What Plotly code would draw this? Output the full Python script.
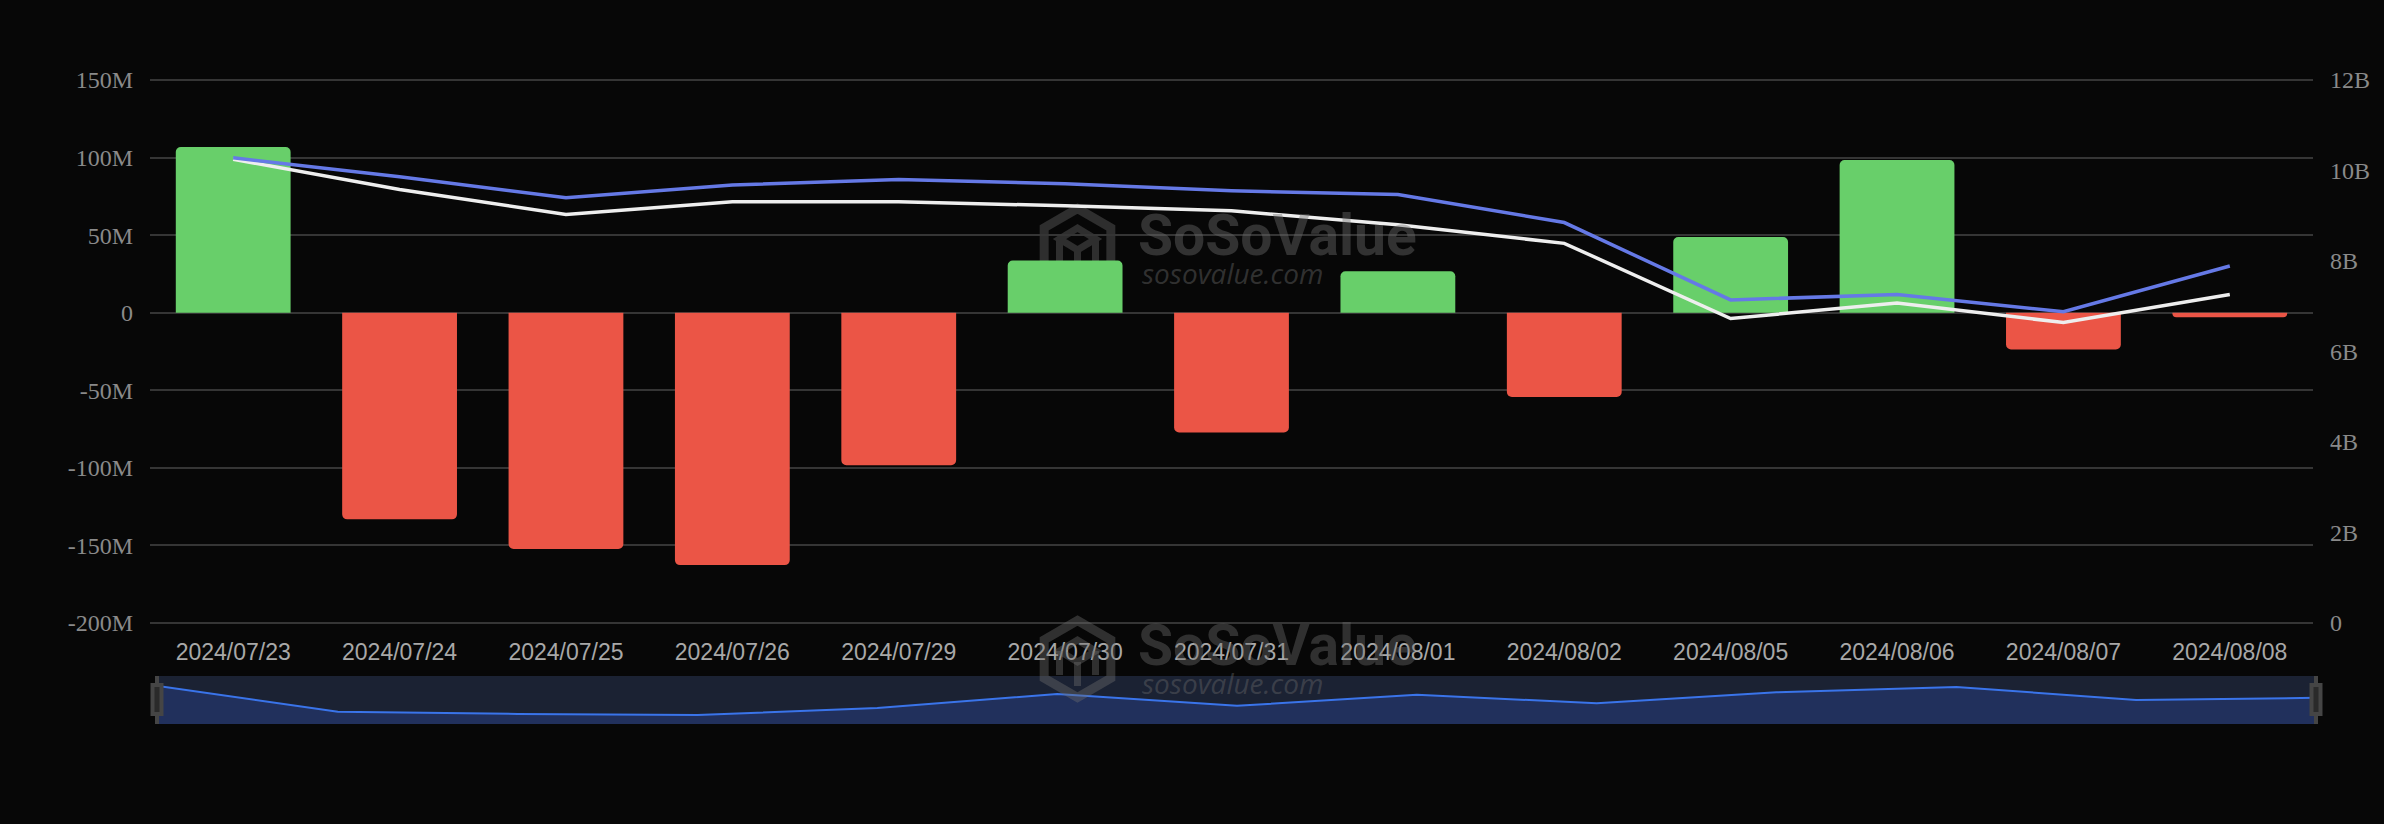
import plotly.graph_objects as go

# ---------------- data ----------------
dates = ["2024/07/23", "2024/07/24", "2024/07/25", "2024/07/26", "2024/07/29",
         "2024/07/30", "2024/07/31", "2024/08/01", "2024/08/02", "2024/08/05",
         "2024/08/06", "2024/08/07", "2024/08/08"]
net_inflow = [106.8e6, -133.2e6, -152.3e6, -162.7e6, -98.3e6, 33.7e6, -77.2e6,
              26.7e6, -54.3e6, 48.8e6, 98.4e6, -23.7e6, -2.9e6]
blue_line = [10.28e9, 9.86e9, 9.40e9, 9.68e9, 9.80e9, 9.71e9, 9.55e9, 9.47e9,
             8.85e9, 7.14e9, 7.26e9, 6.88e9, 7.89e9]
white_line = [10.25e9, 9.58e9, 9.03e9, 9.31e9, 9.31e9, 9.22e9, 9.11e9, 8.80e9,
              8.39e9, 6.73e9, 7.07e9, 6.64e9, 7.26e9]
left_tickvals = [-200e6, -150e6, -100e6, -50e6, 0, 50e6, 100e6, 150e6]
left_ticktext = ["-200M", "-150M", "-100M", "-50M", "0", "50M", "100M", "150M"]
right_tickvals = [0, 2e9, 4e9, 6e9, 8e9, 10e9, 12e9]
right_ticktext = ["0", "2B", "4B", "6B", "8B", "10B", "12B"]

# ---------------- geometry ----------------
W, H = 2384, 824
ML, MR, MT, MB = 150, 68, 78, 100
PW, PH = W - ML - MR, H - MT - MB


def px(x):
    return (x - ML) / PW


def py(y):
    return (H - MB - y) / PH


BG = "#070707"
GREEN = "#68cf6a"
RED = "#eb5546"
BLUE = "#6579e6"
WHITE = "#eeeeee"
GRID = "#353535"

bar_colors = [GREEN if v >= 0 else RED for v in net_inflow]

fig = go.Figure()
fig.add_trace(go.Bar(x=dates, y=net_inflow, marker=dict(color=bar_colors, cornerradius=5,
                                                        line=dict(width=0)),
                     xaxis="x", yaxis="y", name="Daily Net Inflow"))
fig.add_trace(go.Scatter(x=dates, y=white_line, mode="lines", line=dict(color=WHITE, width=3.5),
                         xaxis="x", yaxis="y2", name="white"))
fig.add_trace(go.Scatter(x=dates, y=blue_line, mode="lines", line=dict(color=BLUE, width=3.5),
                         xaxis="x", yaxis="y2", name="blue"))

# slider (data zoom) miniature
SL_RANGE = [-246e6, 200e6]
fig.add_trace(go.Scatter(x=dates, y=[SL_RANGE[0]] * len(dates), mode="lines",
                         line=dict(width=0, color="rgba(0,0,0,0)"), xaxis="x2", yaxis="y3",
                         hoverinfo="skip"))
fig.add_trace(go.Scatter(x=dates, y=net_inflow, mode="lines", fill="tonexty",
                         fillcolor="#21305c", line=dict(color="#3a74ea", width=2),
                         xaxis="x2", yaxis="y3"))

EPS = 1.3e6  # keeps the edge grid lines visible
main_bottom = py(625)
fig.update_layout(
    width=W, height=H, showlegend=False,
    margin=dict(l=ML, r=MR, t=MT, b=MB, pad=0),
    paper_bgcolor=BG, plot_bgcolor=BG,
    bargap=0.31,
    xaxis=dict(domain=[0, px(2313)], type="category", anchor="y",
               showgrid=False, zeroline=False, showline=False, ticks="",
               tickfont=dict(family="Liberation Sans", size=23, color="#a8a8a8"),
               ticklabelstandoff=11),
    yaxis=dict(domain=[main_bottom, 1], range=[-200e6 - EPS, 150e6 + EPS], tickvals=left_tickvals,
               ticktext=left_ticktext, showgrid=True, gridcolor=GRID, gridwidth=1.5,
               zeroline=False, showline=False, ticks="", ticklabelstandoff=16,
               tickfont=dict(family="Liberation Serif", size=24, color="#8a8a8a")),
    yaxis2=dict(overlaying="y", side="right", range=[0 - EPS * 34.2857, 12e9 + EPS * 34.2857],
                tickvals=right_tickvals,
                ticktext=right_ticktext, showgrid=False, zeroline=False, showline=False,
                ticks="", ticklabelstandoff=16, anchor="x",
                tickfont=dict(family="Liberation Serif", size=24, color="#8a8a8a")),
    xaxis2=dict(domain=[px(158), 1], type="category", anchor="y3", range=[0, len(dates) - 1],
                showticklabels=False, showgrid=False, zeroline=False, showline=False, ticks=""),
    yaxis3=dict(domain=[0, py(676)], range=SL_RANGE, showticklabels=False, showgrid=False,
                zeroline=False, showline=False, ticks=""),
)

shapes = []
# slider background
shapes.append(dict(type="rect", xref="x2 domain", yref="y3 domain", x0=0, x1=1, y0=0, y1=1,
                   fillcolor="#1b2233", line=dict(width=0), layer="below"))
# slider handles
for hx in (157, 2316):
    shapes.append(dict(type="line", xref="paper", yref="paper", x0=px(hx), x1=px(hx),
                       y0=py(676), y1=py(724), line=dict(color="#454545", width=4)))
    shapes.append(dict(type="rect", xref="paper", yref="paper", x0=px(hx - 6.5), x1=px(hx + 6.5),
                       y0=py(716), y1=py(683), fillcolor="#454545", line=dict(width=0)))
    shapes.append(dict(type="rect", xref="paper", yref="paper", x0=px(hx - 2.5), x1=px(hx + 2.5),
                       y0=py(712), y1=py(687), fillcolor="#2a2a2a", line=dict(width=0)))


def logo(cx, cy, color, layer):
    r = 38.5
    k = 0.8660254
    pts = [(cx, cy - r), (cx + k * r, cy - r / 2), (cx + k * r, cy + r / 2), (cx, cy + r),
           (cx - k * r, cy + r / 2), (cx - k * r, cy - r / 2)]
    path = "M " + " L ".join(f"{px(x):.5f},{py(y):.5f}" for x, y in pts) + " Z"
    out = [dict(type="path", xref="paper", yref="paper", path=path,
                line=dict(color=color, width=9), layer=layer)]
    a = 18
    inner = [(cx - a, cy - 8), (cx, cy - 19), (cx + a, cy - 8), (cx, cy + 3), (cx - a, cy - 8)]
    p2 = "M " + " L ".join(f"{px(x):.5f},{py(y):.5f}" for x, y in inner) + " Z"
    out.append(dict(type="path", xref="paper", yref="paper", path=p2,
                    line=dict(color=color, width=7), layer=layer))
    for (x0, y0, x1, y1) in [(cx - a, cy - 8, cx - a, cy + 16), (cx + a, cy - 8, cx + a, cy + 16),
                             (cx, cy + 3, cx, cy + 27)]:
        out.append(dict(type="line", xref="paper", yref="paper", x0=px(x0), x1=px(x1),
                        y0=py(y0), y1=py(y1), line=dict(color=color, width=7), layer=layer))
    return out


shapes += logo(1077.5, 247, "#2e2e2e", "below")
shapes += logo(1077.5, 659, "rgba(110,110,110,0.40)", "above")
fig.update_layout(shapes=shapes)

annotations = []
for dy, col in ((0, "rgba(110,110,110,0.42)"), (410, "rgba(110,110,110,0.40)")):
    annotations.append(dict(xref="paper", yref="paper", x=px(1136), y=py(235 + dy),
                            xanchor="left", yanchor="middle", showarrow=False, text="SoSoValue",
                            font=dict(family="Roboto", size=57, color=col, weight="bold")))
    annotations.append(dict(xref="paper", yref="paper", x=px(1140), y=py(273 + dy),
                            xanchor="left", yanchor="middle", showarrow=False, text="sosovalue.com",
                            font=dict(family="Open Sans", size=28, color=col, style="italic")))
fig.update_layout(annotations=annotations)

fig.write_html("out.html", config={"displayModeBar": False},
               post_script="document.body.style.margin='0';document.body.style.background='#070707';")
